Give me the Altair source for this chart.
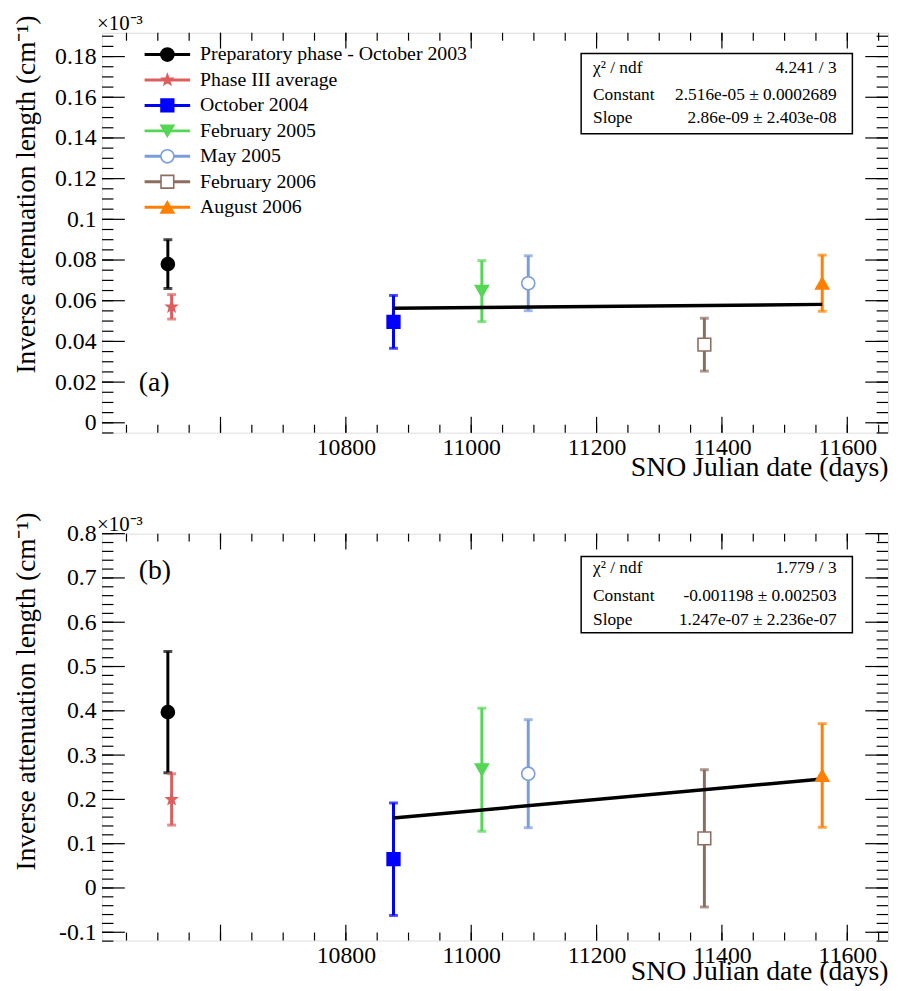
import math
import altair as alt
import pandas as pd

# ---------------- data ----------------
series = ["Preparatory phase - October 2003", "Phase III average", "October 2004",
          "February 2005", "May 2005", "February 2006", "August 2006"]
colors = ["#000000", "#dd5e5e", "#0000ff", "#55d655", "#7b9ddb", "#8c6e60", "#ff8000"]
days = [10516, 10522, 10876, 11017, 11091, 11372, 11560]

# panel (a) values (x 1e-3 cm^-1)
val_a = [0.078, 0.057, 0.0496, 0.0647, 0.0686, 0.0384, 0.0686]
err_a = [0.012, 0.006, 0.013, 0.015, 0.0135, 0.013, 0.0138]
# panel (b) values
val_b = [0.397, 0.200, 0.065, 0.267, 0.258, 0.112, 0.254]
err_b = [0.137, 0.058, 0.127, 0.139, 0.122, 0.155, 0.117]

fit_days = [10876, 11560]
fit_a = [0.0563, 0.0582]
fit_b = [0.158, 0.246]

stats_a = [["χ² / ndf", "4.241 / 3"],
           ["Constant", "2.516e-05 ± 0.0002689"],
           ["Slope", "2.86e-09 ± 2.403e-08"]]
stats_b = [["χ² / ndf", "1.779 / 3"],
           ["Constant", "-0.001198 ± 0.002503"],
           ["Slope", "1.247e-07 ± 2.236e-07"]]

x_labels = [10800, 11000, 11200, 11400, 11600]
x_major = [10600, 10800, 11000, 11200, 11400, 11600]
x_minor = [10450 + 50 * i for i in range(25)]
ya_labels = [0, 0.02, 0.04, 0.06, 0.08, 0.1, 0.12, 0.14, 0.16, 0.18]
ya_minor = [round(-0.005 + 0.005 * i, 4) for i in range(40)]
yb_labels = [-0.1, 0, 0.1, 0.2, 0.3, 0.4, 0.5, 0.6, 0.7, 0.8]
yb_minor = [round(-0.12 + 0.02 * i, 3) for i in range(47)]

# ---------------- styling ----------------
FONT = "Liberation Serif"
W = 794
HA, HB = 404, 411


def star_path():
    pts = []
    for k in range(10):
        r = 1.0 if k % 2 == 0 else 0.42
        a = math.radians(-90 + 36 * k)
        pts.append(f"{r*math.cos(a):.3f},{r*math.sin(a):.3f}")
    return "M" + "L".join(pts) + "Z"


shapes = ["circle", star_path(), "square", "triangle-down", "circle", "square", "triangle-up"]
fills = ["#000000", "#dd5e5e", "#0000ff", "#55d655", "#ffffff", "#ffffff", "#ff8000"]
sizes = [175, 120, 165, 175, 175, 165, 175]

xsc = alt.Scale(domain=[10411, 11665], nice=False, zero=False)


def xaxis(tyx):
    return alt.Axis(values=x_labels, format="d", ticks=False, tickSize=0, domain=False, grid=False,
                    labelFont=FONT, labelFontSize=24, labelColor="black", labelPadding=3,
                    title="SNO Julian date (days)", titleFont=FONT, titleFontSize=28,
                    titleFontWeight="normal", titleColor="black", titleAnchor="end",
                    titleAlign="right", titleX=W, titleY=tyx, titleBaseline="alphabetic",
                    labelFlush=False)


def yaxis(vals, ty):
    return alt.Axis(values=vals, ticks=False, tickSize=0, domain=False, grid=False,
                    labelExpr="datum.value < 0 ? '-' + format(-datum.value, '~g') : format(datum.value, '~g')",
                    labelFont=FONT, labelFontSize=24, labelColor="black", labelPadding=6,
                    title="Inverse attenuation length (cm⁻¹)", titleFont=FONT, titleFontSize=27.5,
                    titleFontWeight="normal", titleColor="black", titleAngle=270,
                    titleAlign="right", titleX=-76, titleY=ty, titleBaseline="middle",
                    labelFlush=False)


def panel(vals, errs, fitv, ydom, ylabels, yminor, ymajor, H, stats, tag, ty, tyx, box):
    ysc = alt.Scale(domain=ydom, nice=False, zero=False)
    yax = yaxis(ylabels, ty)
    xax = xaxis(tyx)
    X = lambda f: alt.X(f, type="quantitative", scale=xsc, axis=xax)
    Y = lambda f: alt.Y(f, type="quantitative", scale=ysc, axis=yax)

    df = pd.DataFrame({"series": series, "day": days, "val": vals, "err": errs,
                       "color": colors, "fill": fills, "shape": shapes, "size": sizes})
    df["lo"] = df["val"] - df["err"]
    df["hi"] = df["val"] + df["err"]

    layers = []
    # ticks (inside frame)
    tk = lambda v: pd.DataFrame({"v": v})
    for vals_, ln in ((ymajor, 23), (yminor, 11.5)):
        layers.append(alt.Chart(tk(vals_)).mark_rule(color="black", strokeWidth=1.2).encode(
            y=Y("v"), x=alt.value(0), x2=alt.value(ln)))
        layers.append(alt.Chart(tk(vals_)).mark_rule(color="black", strokeWidth=1.2).encode(
            y=Y("v"), x=alt.value(W), x2=alt.value(W - ln)))
    for vals_, ln in ((x_major, 16), (x_minor, 8)):
        layers.append(alt.Chart(tk(vals_)).mark_rule(color="black", strokeWidth=1.2).encode(
            x=X("v"), y=alt.value(H), y2=alt.value(H - ln)))
        layers.append(alt.Chart(tk(vals_)).mark_rule(color="black", strokeWidth=1.2).encode(
            x=X("v"), y=alt.value(0), y2=alt.value(ln)))

    # error bars
    layers.append(alt.Chart(df).mark_rule(strokeWidth=3).encode(
        x=X("day"), y=Y("lo"), y2="hi", color=alt.Color("color:N", scale=None)))
    for f in ("lo", "hi"):
        layers.append(alt.Chart(df).mark_tick(orient="horizontal", thickness=3, size=9).encode(
            x=X("day"), y=Y(f), color=alt.Color("color:N", scale=None)))
    # fit line
    layers.append(alt.Chart(pd.DataFrame({"day": fit_days, "val": fitv})).mark_line(
        color="black", strokeWidth=3.5).encode(x=X("day"), y=Y("val")))
    # markers
    layers.append(alt.Chart(df).mark_point(opacity=1, fillOpacity=1, strokeWidth=1.6).encode(
        x=X("day"), y=Y("val"),
        shape=alt.Shape("shape:N", scale=None),
        fill=alt.Fill("fill:N", scale=None),
        stroke=alt.Stroke("color:N", scale=None),
        size=alt.Size("size:Q", scale=None)))

    one = pd.DataFrame({"a": [0]})
    # stats box
    bx0, bx1, by0, by1, rows = box
    layers.append(alt.Chart(one).mark_rect(fill="white", stroke="black", strokeWidth=1.5).encode(
        x=alt.value(bx0), x2=alt.value(bx1), y=alt.value(by0), y2=alt.value(by1)))
    for (lt, rt), ry in zip(stats, rows):
        layers.append(alt.Chart(one).mark_text(text=lt, font=FONT, fontSize=17.5, align="left",
                                               baseline="middle", color="black").encode(
            x=alt.value(bx0 + 12), y=alt.value(ry)))
        layers.append(alt.Chart(one).mark_text(text=rt, font=FONT, fontSize=17.5, align="right",
                                               baseline="middle", color="black").encode(
            x=alt.value(bx1 - 16), y=alt.value(ry)))
    # panel tag and exponent
    layers.append(alt.Chart(one).mark_text(text=tag[0], font=FONT, fontSize=28, align="left",
                                           baseline="middle", color="black").encode(
        x=alt.value(37), y=alt.value(tag[1])))
    layers.append(alt.Chart(one).mark_text(text="×10⁻³", font=FONT, fontSize=21, align="left",
                                           baseline="alphabetic", color="black").encode(
        x=alt.value(-5), y=alt.value(-3)))
    return layers


layers_a = panel(val_a, err_a, fit_a, [-0.00486, 0.1917], ya_labels, ya_minor, ya_labels, HA,
                 stats_a, ("(a)", 354), -18, 43, (484, 758, 21, 102, [36, 63, 86]))
# legend (panel a only)
one = pd.DataFrame({"a": [0]})
for i, name in enumerate(series):
    yy = 22 + 25.7 * i
    layers_a.append(alt.Chart(one).mark_rule(color=colors[i], strokeWidth=3).encode(
        x=alt.value(43), x2=alt.value(89), y=alt.value(yy)))
    layers_a.append(alt.Chart(one).mark_point(shape=shapes[i], fill=fills[i], stroke=colors[i],
                                              size=sizes[i], opacity=1, fillOpacity=1,
                                              strokeWidth=1.6).encode(
        x=alt.value(66), y=alt.value(yy)))
    layers_a.append(alt.Chart(one).mark_text(text=name, font=FONT, fontSize=20, align="left",
                                             baseline="middle", color="black").encode(
        x=alt.value(99), y=alt.value(yy)))

layers_b = panel(val_b, err_b, fit_b, [-0.1186, 0.8], yb_labels, yb_minor, yb_labels, HB,
                 stats_b, ("(b)", 38), -22, 39, (484, 758, 23, 100, [35, 63, 87]))

pa = alt.layer(*layers_a).properties(width=W, height=HA)
pb = alt.layer(*layers_b).properties(width=W, height=HB)

chart = alt.vconcat(pa, pb, spacing=102, bounds="flush").properties(
    padding={"left": 4, "top": -1, "right": 0, "bottom": 0}
).configure_view(stroke="black", strokeWidth=2).configure_axis(
    labelFont=FONT, titleFont=FONT
).configure_text(font=FONT).configure(font=FONT, background="white")

chart.save("out.html", embed_options={"renderer": "svg", "actions": False})
